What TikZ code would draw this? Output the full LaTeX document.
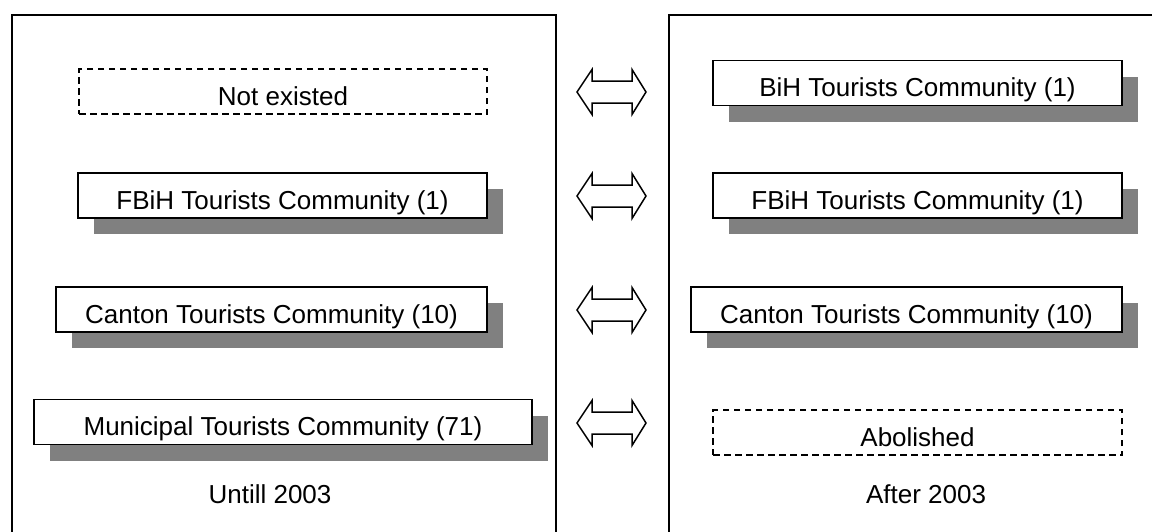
\documentclass[tikz,border=0pt]{standalone}
\usepackage{fontspec}
\setmainfont{Liberation Sans}
\usetikzlibrary{shadows}
\begin{document}
\begin{tikzpicture}[x=1pt,y=-1pt,
  txt/.style={font=\fontsize{26}{30}\selectfont, inner sep=0pt},
  panel/.style={draw, line width=1.8pt, minimum width=#1, minimum height=540pt, anchor=north west, inner sep=0pt},
  unit/.style={txt, draw, fill=white, line width=1.7pt, minimum height=45pt, minimum width=#1,
    text height=27.6pt, text depth=0pt,
    general shadow={fill=black!50, shadow xshift=16pt, shadow yshift=-16pt}},
  void/.style={txt, draw, fill=white, dashed, dash pattern=on 6.5pt off 4.5pt, line width=1.7pt,
    minimum height=45pt, minimum width=#1, text height=27.6pt, text depth=0pt},
  period/.style={txt, text height=18.6pt, text depth=0pt},
  linkarrow/.style={draw, fill=white, line width=1.5pt, line join=miter}]
\useasboundingbox (0,0) rectangle (1152,531);
\clip (0,0) rectangle (1152,531);

% the two periods
\node[panel=544pt] (before) at (11,14.3) {};
\node[panel=500pt] (after) at (668,14.3) {};

% structure until 2003
\node[void=408pt] (ne) at (283,91.5) {Not existed};
\node[unit=409pt] (lf) at (282.5,195.5) {FBiH Tourists Community (1)};
\node[unit=431pt] (lc) at (271.5,309.5) {Canton Tourists Community (10)};
\node[unit=498pt] (lm) at (283,422) {Municipal Tourists Community (71)};
\node[period] (lt) at (270,494) {Untill 2003};

% structure after 2003
\node[unit=409pt] (rb) at (917.5,83) {BiH Tourists Community (1)};
\node[unit=409pt] (rf) at (917.5,195.5) {FBiH Tourists Community (1)};
\node[unit=431pt] (rc) at (906.5,309.5) {Canton Tourists Community (10)};
\node[void=409pt] (ab) at (917.5,432.5) {Abolished};
\node[period] (rt) at (926,494) {After 2003};

% correspondence arrows between the levels
\foreach \n/\y in {1/92,2/196,3/310,4/423}{
  \coordinate (m\n) at (611.5,\y);
  \draw[linkarrow] (m\n) ++(-34.5,0) -- ++(15,-22.5) -- ++(0,11.5) -- ++(40,0) -- ++(0,-11.5)
    -- ++(14,22.5) -- ++(-14,22.5) -- ++(0,-11.5) -- ++(-40,0) -- ++(0,11.5) -- cycle;
}
\end{tikzpicture}
\end{document}
